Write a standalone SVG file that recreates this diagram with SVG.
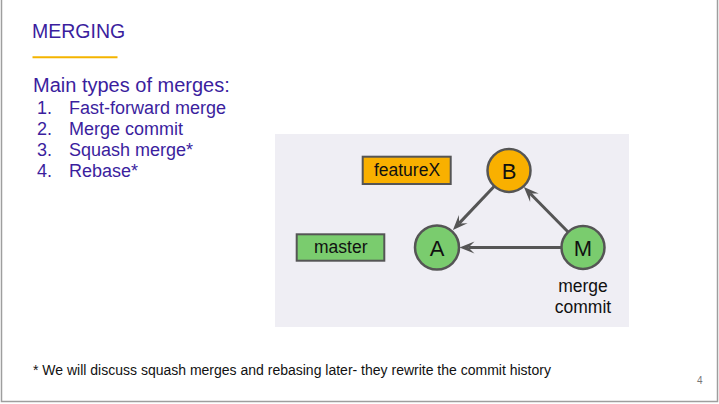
<svg xmlns="http://www.w3.org/2000/svg" width="719" height="404" viewBox="0 0 719 404">
<style>
text{font-family:"Liberation Sans",Arial,sans-serif}
.pur{fill:#3b1e9e}
.node{stroke:#555;stroke-width:2.5}
.box{stroke:#555;stroke-width:2}
.org{fill:#f9b000}
.grn{fill:#7acc6e}
.lbl{font-size:17.5px;fill:#111;text-anchor:middle}
.big{font-size:22px;fill:#111;text-anchor:middle}
.conn{stroke:#555;stroke-width:3;fill:none;marker-end:url(#ah)}
</style>
<defs>
<marker id="ah" markerUnits="userSpaceOnUse" viewBox="0 0 17 14" markerWidth="17" markerHeight="14" refX="7" refY="7" orient="auto">
<path d="M1,1 L16,7 L1,13 L7,7 z" fill="#555"/>
</marker>
</defs>
<rect width="719" height="404" fill="#fff"/>
<rect x="1.5" y="-5" width="716" height="406.5" fill="none" stroke="#9e9e9e" stroke-width="1.5"/>
<g id="title">
<text x="32" y="37.5" class="pur" font-size="19.5">MERGING</text>
<line x1="32.5" y1="57.3" x2="117.5" y2="57.3" stroke="#f4b400" stroke-width="2"/>
</g>
<g id="list" class="pur">
<text x="33" y="92" font-size="20">Main types of merges:</text>
<g font-size="18">
<text x="37" y="114">1.</text><text x="69" y="114">Fast-forward merge</text>
<text x="37" y="135">2.</text><text x="69" y="135">Merge commit</text>
<text x="37" y="156">3.</text><text x="69" y="156">Squash merge*</text>
<text x="37" y="177">4.</text><text x="69" y="177">Rebase*</text>
</g>
</g>
<rect id="panel" x="275" y="134" width="354" height="193" fill="#efeef4"/>
<g id="featureX">
<rect x="362.7" y="156.7" width="88" height="27.3" class="box org"/>
<text x="407" y="176" class="lbl">featureX</text>
</g>
<g id="master">
<rect x="296.7" y="234.3" width="87.6" height="26.4" class="box grn"/>
<text x="340.8" y="253.3" class="lbl">master</text>
</g>
<g id="nodeB">
<circle cx="509" cy="170.5" r="21.5" class="node org"/>
<text x="509" y="178.5" class="big">B</text>
</g>
<g id="nodeA">
<circle cx="437" cy="247.5" r="22" class="node grn"/>
<text x="437" y="255.5" class="big">A</text>
</g>
<g id="nodeM">
<circle cx="583" cy="247.5" r="21.5" class="node grn"/>
<text x="583" y="255.5" class="big">M</text>
<text x="583" y="292" class="lbl">merge</text>
<text x="583" y="312.5" class="lbl">commit</text>
</g>
<g id="connectors">
<line x1="561.5" y1="247.5" x2="468.5" y2="247.5" class="conn"/>
<line x1="494.3" y1="186.2" x2="459.1" y2="223.4" class="conn"/>
<line x1="568.1" y1="232" x2="530.2" y2="193.5" class="conn"/>
</g>
<text x="33" y="375" font-size="14" fill="#111">* We will discuss squash merges and rebasing later- they rewrite the commit history</text>
<text x="697" y="384" font-size="10" fill="#777">4</text>
</svg>
